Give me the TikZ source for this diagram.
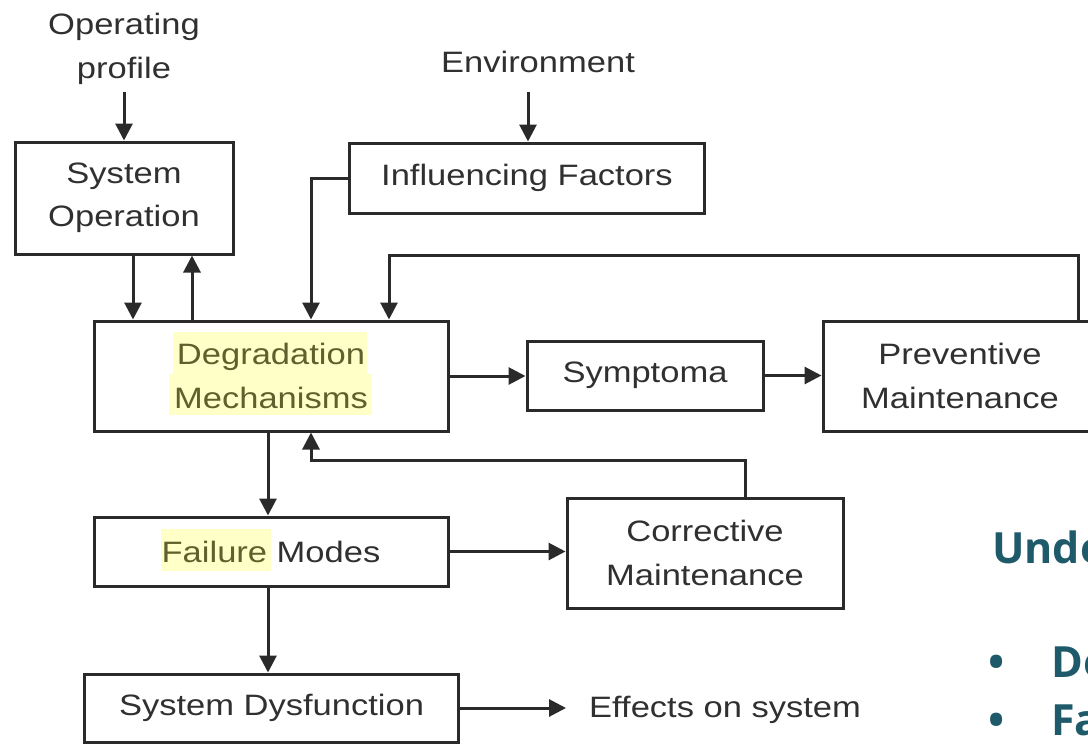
\documentclass[tikz,border=0pt]{standalone}
\usepackage{fontspec}
\setmainfont{Liberation Sans}[FakeStretch=1.17]
\newfontfamily\tealfamily{Open Sans}
\usetikzlibrary{arrows.meta}
\definecolor{linec}{HTML}{2A2A2A}
\definecolor{txtc}{HTML}{303030}
\definecolor{hltext}{HTML}{60602E}
\definecolor{hlfill}{HTML}{FFFFC8}
\definecolor{tealc}{HTML}{1F5A6B}
\newcommand\dfont{\fontsize{29.5pt}{43.5pt}\selectfont}
\newcommand\tfont{\tealfamily\bfseries\fontsize{43pt}{50pt}\selectfont}
\tikzset{
  boxst/.style={draw=linec, line width=3pt, align=center, inner sep=0pt,
    text=txtc, font=\dfont},
  labst/.style={align=center, inner sep=0pt, text=txtc, font=\dfont},
  arr/.style={draw=linec, line width=3pt, -{Triangle[width=17pt,length=17pt]}},
  tealst/.style={inner sep=0pt, text=tealc, font=\tfont},
}
\begin{document}
\begin{tikzpicture}[x=1pt,y=-1pt]
\useasboundingbox (0,0) rectangle (1088,744);
% highlights
\fill[hlfill] (173,332) rectangle (367,374);
\fill[hlfill] (169,374) rectangle (372,415);
\fill[hlfill] (161,529) rectangle (271,571);
% text labels
\node[labst] (op) at (124,49) {Operating\\profile};
\node[labst] (env) at (538,62) {Environment};
\coordinate (oparr) at (124,92);
\coordinate (envarr) at (528,92);
% boxes
\node[boxst, minimum width=218pt, minimum height=112pt] (sysop) at (124,198) {System\\Operation};
\node[boxst, minimum width=355pt, minimum height=70pt] (inf) at (527,178) {Influencing Factors};
\node[boxst, minimum width=354pt, minimum height=110pt, text=hltext] (deg) at (271,376) {Degradation\\Mechanisms};
\node[boxst, minimum width=236pt, minimum height=69pt] (sym) at (645,375.5) {Symptoma};
\node[boxst, minimum width=274pt, minimum height=110pt] (pm) at (960,376) {Preventive\\Maintenance};
\node[boxst, minimum width=354pt, minimum height=69pt] (fm) at (271,551.5) {\textcolor{hltext}{Failure} Modes};
\node[boxst, minimum width=276pt, minimum height=110pt] (cm) at (705,553) {Corrective\\Maintenance};
\node[boxst, minimum width=374pt, minimum height=68pt] (sd) at (271.5,708) {System Dysfunction};
\node[labst, anchor=west, inner xsep=23pt] (eff) at (566,710) {Effects on system};
% connectors
\draw[arr] (oparr) -- (oparr |- sysop.north);
\draw[arr] (envarr) -- (envarr |- inf.north);
\draw[arr] ([xshift=9pt]sysop.south) -- ([xshift=9pt]sysop.south |- deg.north);
\draw[arr] ([xshift=-79pt]deg.north) -- ([xshift=-79pt]deg.north |- sysop.south);
\draw[arr] (inf.west) -| ([xshift=40pt]deg.north);
\draw[arr] ([xshift=118pt]pm.north) -- ++(0,-64) -| ([xshift=118pt]deg.north);
\draw[arr] (deg.east) -- (deg.east -| sym.west);
\draw[arr] (sym.east) -- (sym.east -| pm.west);
\draw[arr] ([xshift=-3pt]deg.south) -- ([xshift=-3pt]fm.north);
\draw[arr] ([xshift=40pt]cm.north) -- ++(0,-36) -| ([xshift=40pt]deg.south);
\draw[arr] (fm.east) -- (fm.east -| cm.west);
\draw[arr] ([xshift=-3pt]fm.south) -- ([xshift=-3pt]fm.south |- sd.north);
\draw[arr] (sd.east) -- (sd.east -| eff.west);
% right-hand text
\node[tealst, anchor=base west] (und) at (992,563) {Unde};
\node[tealst, anchor=base] (b1) at (997,677) {•};
\node[tealst, anchor=base west] (de) at (1051,677) {De};
\node[tealst, anchor=base] (b2) at (997,735) {•};
\node[tealst, anchor=base west] (fa) at (1051,735) {Fa};
\end{tikzpicture}
\end{document}
